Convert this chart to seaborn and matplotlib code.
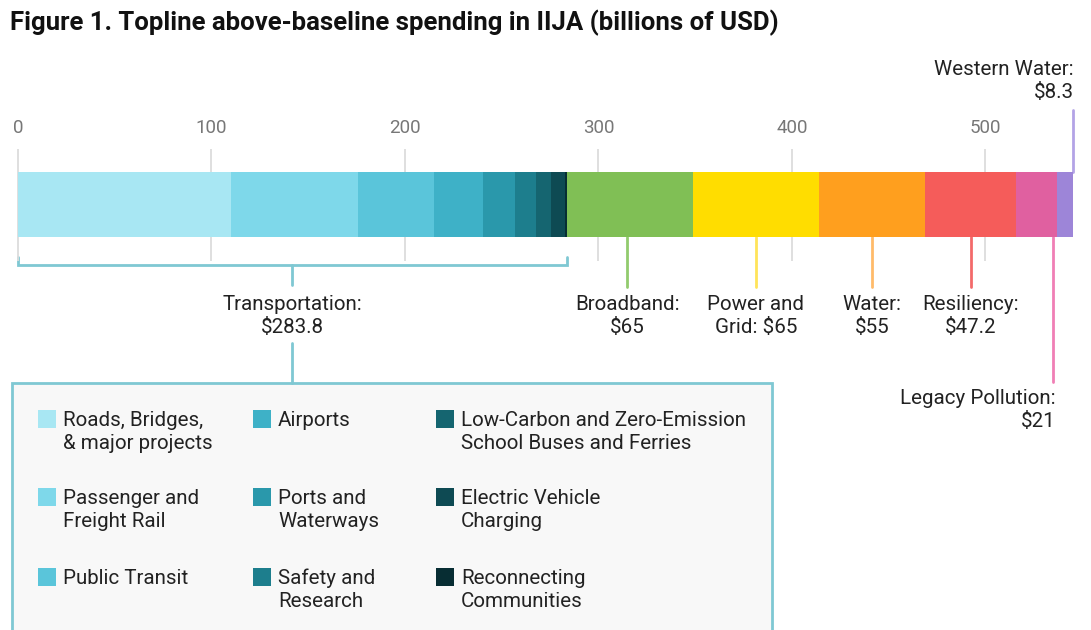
import matplotlib
matplotlib.use("Agg")
import matplotlib.pyplot as plt
import matplotlib.transforms as mtransforms
from matplotlib.patches import Rectangle
import numpy as np
import pandas as pd
import seaborn as sns

# ---- data (billions of USD) ----
transport_items = [
    "Roads, Bridges,\n& major projects",
    "Passenger and\nFreight Rail",
    "Public Transit",
    "Airports",
    "Ports and\nWaterways",
    "Safety and\nResearch",
    "Low-Carbon and Zero-Emission\nSchool Buses and Ferries",
    "Electric Vehicle\nCharging",
    "Reconnecting\nCommunities",
]
transport_values = [110, 66, 39.2, 25, 16.6, 11, 7.5, 7.5, 1.0]
transport_colors = ["#a8e7f3", "#7ed8ea", "#5ac5da", "#3eb1c7", "#2a98ab",
                    "#1d7e8d", "#156570", "#0e4a53", "#072d33"]
transport_total_label = "Transportation:\n$283.8"

sector_names = ["Broadband", "Power and Grid", "Water", "Resiliency",
                "Legacy Pollution", "Western Water"]
sector_values = [65, 65, 55, 47.2, 21, 8.3]
sector_labels = ["Broadband:\n$65", "Power and\nGrid: $65", "Water:\n$55",
                 "Resiliency:\n$47.2", "Legacy Pollution:\n$21",
                 "Western Water:\n$8.3"]
sector_colors = ["#80bf55", "#ffdd00", "#ff9f1e", "#f55c5a", "#e060a0", "#9d85d8"]
sector_line_colors = ["#92cb6e", "#ffe45a", "#ffbb6a", "#f36a6a", "#f07fb5", "#b3a3e6"]

ticks = [0, 100, 200, 300, 400, 500]
title = "Figure 1. Topline above-baseline spending in IIJA (billions of USD)"

# ---- assemble segments ----
seg = pd.DataFrame({
    "name": transport_items + sector_names,
    "value": transport_values + sector_values,
    "color": transport_colors + sector_colors,
})
seg["start"] = seg["value"].cumsum() - seg["value"]
seg["bar"] = "IIJA"

W, H = 1091, 630
TXT = "#222222"
BOX = "#7fc8d3"
FS = 14.8          # annotation font size
LS = 1.3           # line spacing for two-line labels
STEP = 23          # pixel distance between label lines
HALF_CAP = 7.3     # half cap height in pixels at FS

sns.set_theme(style="white")
plt.rcParams["font.family"] = ["Roboto", "DejaVu Sans"]

fig = plt.figure(figsize=(W / 100, H / 100), dpi=100)

# horizontal scale: 0 sits at x=18 px, 1.935 px per billion
x0_px, px_per = 17.9, 1.935
xlim = (-x0_px / px_per, (W - x0_px) / px_per)

# bar axes spans the gridline band (y = 149..261 px)
g_top, g_bot = 149, 261
ax = fig.add_axes([0, 1 - g_bot / H, 1, (g_bot - g_top) / H])
for _, r in seg.iterrows():
    sns.barplot(x=[r["value"]], y=[r["bar"]], left=[r["start"]], orient="h",
                color=r["color"], saturation=1, width=0.8, linewidth=0, ax=ax)
bar_c, unit = 204.6, 64.3 / 0.8
ax.set_ylim((g_bot - bar_c) / unit, -(bar_c - g_top) / unit)
ax.set_xlim(*xlim)
ax.set_xticks(ticks)
ax.set_xticklabels([str(t) for t in ticks])
ax.xaxis.tick_top()
ax.tick_params(axis="x", length=0, pad=9, labelsize=13.5, labelcolor="#777777")
ax.set_yticks([])
ax.set_xlabel("")
ax.set_ylabel("")
ax.grid(axis="x", color="#dcdcdc", linewidth=1.3)
ax.set_axisbelow(True)
for s in ax.spines.values():
    s.set_visible(False)
ax.patch.set_alpha(0)

# overlay in pixel coordinates for annotations
ov = fig.add_axes([0, 0, 1, 1], zorder=-1)
ov.set_xlim(0, W)
ov.set_ylim(H, 0)
ov.axis("off")
mix = mtransforms.blended_transform_factory(ax.transData, ov.transData)


def label(x, first_center, s, ha="center", transform=None, **kw):
    """Place a (possibly multi-line) label by the centre of its first line."""
    n = s.count("\n") + 1
    base = first_center + HALF_CAP + STEP * (n - 1)
    return ov.text(x, base, s, ha=ha, va="baseline", fontsize=FS, color=TXT,
                   linespacing=LS, multialignment=ha,
                   transform=transform or ov.transData, **kw)


ov.text(10, 23, title, ha="left", va="center", fontsize=18.5, fontweight="bold",
        family="Roboto", color="#111111")

bar_bottom, bar_top = 237, 172

# transportation bracket
t_total = sum(transport_values)
t_mid = t_total / 2
ov.plot([0, 0, t_total, t_total], [257, 265, 265, 257], color=BOX, lw=2,
        transform=mix, solid_joinstyle="miter")
ov.plot([t_mid, t_mid], [265, 285], color=BOX, lw=2, transform=mix)
label(t_mid, 303, transport_total_label, transform=mix)
ov.plot([t_mid, t_mid], [343, 383], color=BOX, lw=2, transform=mix)

# sector callouts
sec = seg.iloc[len(transport_items):].reset_index(drop=True)
frac = [0.48, 0.5, 0.5, 0.5, 0.9, 0.97]
for i, r in sec.iterrows():
    x = r["start"] + frac[i] * r["value"]
    lc = sector_line_colors[i]
    if sector_names[i] == "Western Water":
        ov.plot([x, x], [110, bar_top], color=lc, lw=2, transform=mix)
        label(x + 0.5, 68, sector_labels[i], ha="right", transform=mix)
    elif sector_names[i] == "Legacy Pollution":
        ov.plot([x, x], [bar_bottom, 382], color=lc, lw=2, transform=mix)
        label(x + 1.5, 397, sector_labels[i], ha="right", transform=mix)
    else:
        ov.plot([x, x], [bar_bottom, 287], color=lc, lw=2, transform=mix)
        label(x, 303, sector_labels[i], ha="center", transform=mix)

# transportation legend box
ov.add_patch(Rectangle((12, 383), 760, 300, facecolor="#f8f8f8",
                       edgecolor=BOX, lw=2, zorder=1))
col_x = [38, 253, 436]
row_y = [410, 488, 568]
for k, (name, color) in enumerate(zip(transport_items, transport_colors)):
    cx, ry = col_x[k // 3], row_y[k % 3]
    ov.add_patch(Rectangle((cx, ry), 18, 18, facecolor=color, edgecolor="none",
                           zorder=2))
    label(cx + 25, ry + 9, name, ha="left", zorder=3)

fig.savefig("out.png", dpi=100, facecolor="white")
